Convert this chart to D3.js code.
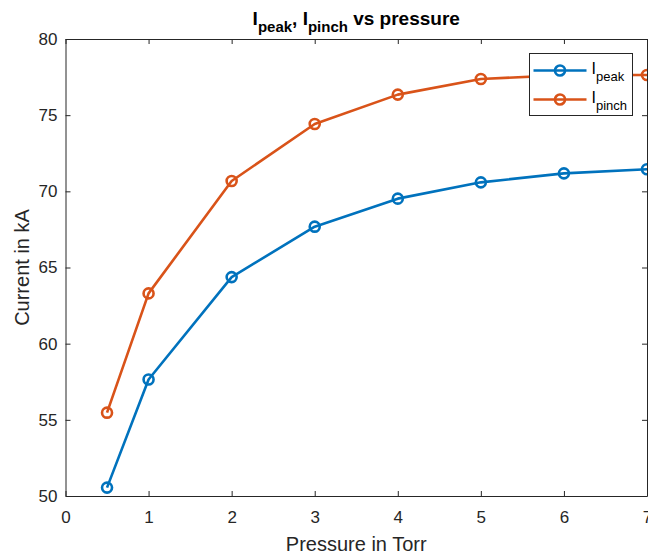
<!DOCTYPE html>
<html>
<head>
<meta charset="utf-8">
<script src="https://cdn.jsdelivr.net/npm/d3@7"></script>
<style>
  html, body { margin: 0; padding: 0; background: #fff; }
  svg { display: block; font-family: "Liberation Sans", Arial, Helvetica, sans-serif; }
</style>
</head>
<body>
<svg id="chart" width="648" height="555"></svg>
<script>
// Pressure (Torr) and measured currents (kA)
const pressure = [0.5, 1, 2, 3, 4, 5, 6, 7];
const iPeak    = [50.55, 57.65, 64.37, 67.68, 69.52, 70.59, 71.18, 71.45];
const iPinch   = [55.47, 63.30, 70.68, 74.42, 76.35, 77.37, 77.63, 77.64];
const xTicks = [0, 1, 2, 3, 4, 5, 6, 7];
const yTicks = [50, 55, 60, 65, 70, 75, 80];

const series = [
  { name: "peak",  values: iPeak,  color: "#0072BD" },
  { name: "pinch", values: iPinch, color: "#D95319" }
];

const svg = d3.select("#chart");
const m = { left: 65.5, right: 647, top: 39, bottom: 496 };
const axisColor = "#262626";
const tickFont = 17;
const labelFont = 20;

const x = d3.scaleLinear().domain([0, 7]).range([m.left, m.right]);
const y = d3.scaleLinear().domain([50, 80]).range([m.bottom, m.top]);

// Series lines and hollow circle markers
const line = d3.line().x((d, i) => x(pressure[i])).y(d => y(d));
const plot = svg.append("g");
series.forEach(s => {
  plot.append("path")
    .datum(s.values)
    .attr("d", line)
    .attr("fill", "none")
    .attr("stroke", s.color)
    .attr("stroke-width", 2.6)
    .attr("stroke-linejoin", "round");
  plot.selectAll(null)
    .data(s.values)
    .join("circle")
    .attr("cx", (d, i) => x(pressure[i]))
    .attr("cy", d => y(d))
    .attr("r", 5)
    .attr("fill", "none")
    .attr("stroke", s.color)
    .attr("stroke-width", 2.6);
});

// Axes with inward ticks on all four sides
const tick = 5;
const axBottom = svg.append("g").attr("transform", `translate(0,${m.bottom})`)
  .call(d3.axisBottom(x).tickValues(xTicks).tickSizeInner(-tick).tickSizeOuter(0).tickPadding(15).tickFormat(d3.format("d")));
const axTop = svg.append("g").attr("transform", `translate(0,${m.top})`)
  .call(d3.axisTop(x).tickValues(xTicks).tickSizeInner(-tick).tickSizeOuter(0).tickFormat(""));
const axLeft = svg.append("g").attr("transform", `translate(${m.left},0)`)
  .call(d3.axisLeft(y).tickValues(yTicks).tickSizeInner(-tick).tickSizeOuter(0).tickPadding(8).tickFormat(d3.format("d")));
const axRight = svg.append("g").attr("transform", `translate(${m.right},0)`)
  .call(d3.axisRight(y).tickValues(yTicks).tickSizeInner(-tick).tickSizeOuter(0).tickFormat(""));

[axBottom, axTop, axLeft, axRight].forEach(g => {
  g.select(".domain").attr("stroke", axisColor).attr("stroke-width", 1);
  g.selectAll(".tick line").attr("stroke", axisColor);
  g.selectAll("text").attr("fill", axisColor).style("font-size", tickFont + "px")
    .style("font-family", "'Liberation Sans', Arial, sans-serif");
});

// Axis labels
svg.append("text")
  .attr("x", (m.left + m.right) / 2).attr("y", 551)
  .attr("text-anchor", "middle")
  .attr("fill", axisColor)
  .style("font-size", labelFont + "px")
  .text("Pressure in Torr");

svg.append("text")
  .attr("transform", `translate(29,${(m.top + m.bottom) / 2}) rotate(-90)`)
  .attr("text-anchor", "middle")
  .attr("fill", axisColor)
  .style("font-size", labelFont + "px")
  .text("Current in kA");

// Title with subscripts
const title = svg.append("text")
  .attr("x", (m.left + m.right) / 2).attr("y", 25)
  .attr("text-anchor", "middle")
  .attr("fill", "#000")
  .style("font-size", "19px")
  .style("font-weight", "bold");
title.append("tspan").text("I");
title.append("tspan").attr("dy", 7).style("font-size", "15px").text("peak");
title.append("tspan").attr("dy", -7).text(", I");
title.append("tspan").attr("dy", 7).style("font-size", "15px").text("pinch");
title.append("tspan").attr("dy", -7).text(" vs pressure");

// Legend
const lg = svg.append("g").attr("transform", "translate(529.5,53.5)");
lg.append("rect").attr("width", 103).attr("height", 62)
  .attr("fill", "#fff").attr("stroke", axisColor).attr("stroke-width", 1);
series.forEach((s, i) => {
  const row = lg.append("g").attr("transform", `translate(0,${17 + i * 29})`);
  row.append("line").attr("x1", 4).attr("x2", 57).attr("stroke", s.color).attr("stroke-width", 2.6);
  row.append("circle").attr("cx", 30.5).attr("r", 5)
    .attr("fill", "none").attr("stroke", s.color).attr("stroke-width", 2.6);
  const t = row.append("text").attr("x", 62).attr("y", 3)
    .attr("fill", "#000").style("font-size", "16px");
  t.append("tspan").text("I");
  t.append("tspan").attr("dy", 7).style("font-size", "13px").text(s.name);
});
</script>
</body>
</html>
